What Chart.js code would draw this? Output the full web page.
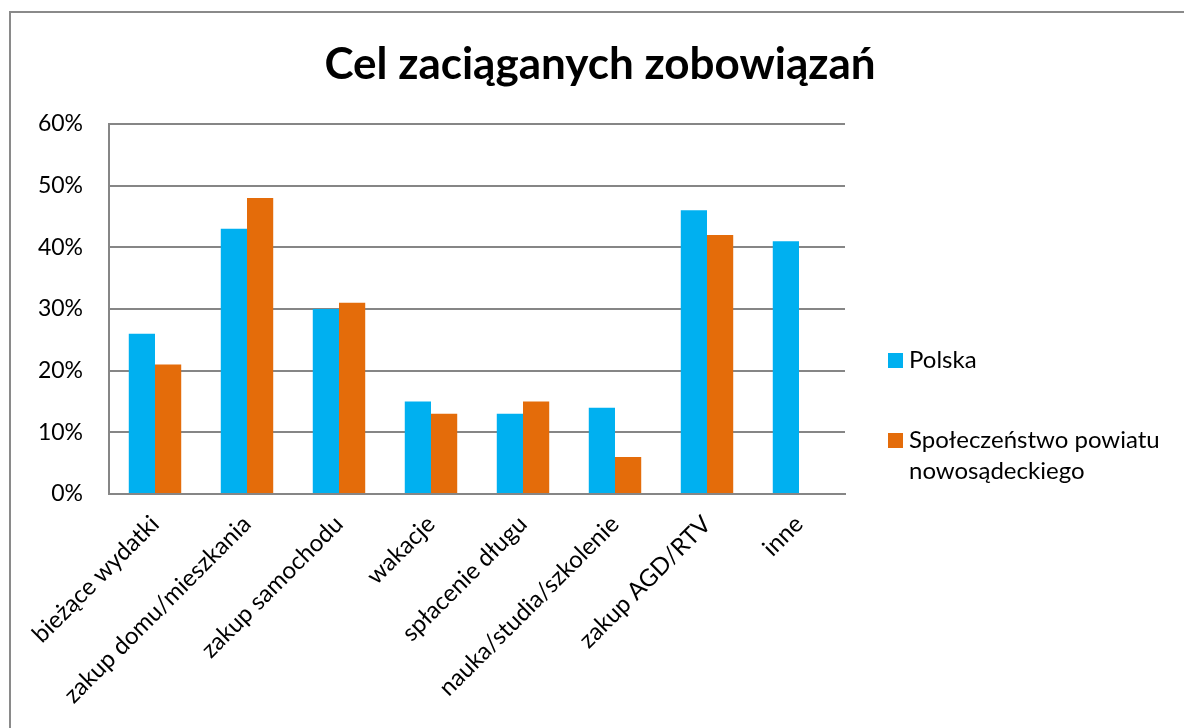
<!DOCTYPE html>
<html>
<head>
<meta charset="utf-8">
<script src="https://cdn.jsdelivr.net/npm/chart.js@4"></script>
<style>
  html, body { margin: 0; padding: 0; background: #fff; }
  #wrap { width: 1184px; height: 728px; }
</style>
</head>
<body>
<div id="wrap"><canvas id="wykres" width="1184" height="728"></canvas></div>
<script>
const kategorie = [
  'bieżące wydatki',
  'zakup domu/mieszkania',
  'zakup samochodu',
  'wakacje',
  'spłacenie długu',
  'nauka/studia/szkolenie',
  'zakup AGD/RTV',
  'inne'
];
const polska = [26, 43, 30, 15, 13, 14, 46, 41];
const powiat = [21, 48, 31, 13, 15, 6, 42, null];
const seriaNazwy = ['Polska', ['Społeczeństwo powiatu', 'nowosądeckiego']];
const kolory = ['#00B0F0', '#E46C0A'];
const tytul = 'Cel zaciąganych zobowiązań';
const czcionka = 'Lato, "Open Sans", sans-serif';

// ramka, tytuł i legenda rysowane ręcznie
const dodatki = {
  id: 'dodatki',
  beforeDraw(chart) {
    const ctx = chart.ctx;
    ctx.save();
    ctx.strokeStyle = '#8a8a8a';
    ctx.lineWidth = 2;
    ctx.strokeRect(10, 12, 1400, 900);
    ctx.restore();
  },
  afterDraw(chart) {
    const ctx = chart.ctx;
    ctx.save();
    ctx.fillStyle = '#000';
    ctx.font = 'bold 44px ' + czcionka;
    ctx.textAlign = 'center';
    ctx.textBaseline = 'alphabetic';
    ctx.fillText(tytul, 600, 79);

    ctx.font = '24px ' + czcionka;
    ctx.textAlign = 'left';
    ctx.textBaseline = 'middle';
    const pozycje = [360, 440];
    chart.data.datasets.forEach((ds, i) => {
      const y = pozycje[i];
      ctx.fillStyle = ds.backgroundColor;
      ctx.fillRect(888, y - 7, 15, 15);
      ctx.fillStyle = '#000';
      const linie = Array.isArray(seriaNazwy[i]) ? seriaNazwy[i] : [seriaNazwy[i]];
      linie.forEach((t, j) => ctx.fillText(t, 909, y + j * 31));
    });
    ctx.restore();
  }
};

new Chart(document.getElementById('wykres'), {
  type: 'bar',
  data: {
    labels: kategorie,
    datasets: [
      { label: 'Polska', data: polska, backgroundColor: kolory[0] },
      { label: 'Społeczeństwo powiatu nowosądeckiego', data: powiat, backgroundColor: kolory[1] }
    ]
  },
  options: {
    responsive: false,
    animation: false,
    devicePixelRatio: 1,
    layout: { padding: { top: 124, right: 339, left: 0, bottom: 0 } },
    datasets: { bar: { categoryPercentage: 0.57, barPercentage: 1 } },
    plugins: {
      legend: { display: false },
      title: { display: false },
      tooltip: { enabled: false }
    },
    scales: {
      x: {
        afterFit(scale) { scale.height = 234; },
        grid: { display: false, drawTicks: false },
        border: { display: true, color: '#868686', width: 2 },
        ticks: {
          color: '#000',
          font: { family: czcionka, size: 24 },
          maxRotation: 45,
          minRotation: 45,
          padding: 16,
          autoSkip: false
        }
      },
      y: {
        min: 0,
        max: 60,
        afterFit(scale) { scale.width = 109; },
        grid: { color: '#868686', lineWidth: 2, drawTicks: false },
        border: { display: true, color: '#868686', width: 2 },
        ticks: {
          stepSize: 10,
          color: '#000',
          padding: 26,
          font: { family: czcionka, size: 23 },
          callback: (v) => v + '%'
        }
      }
    }
  },
  plugins: [dodatki]
});
</script>
</body>
</html>
